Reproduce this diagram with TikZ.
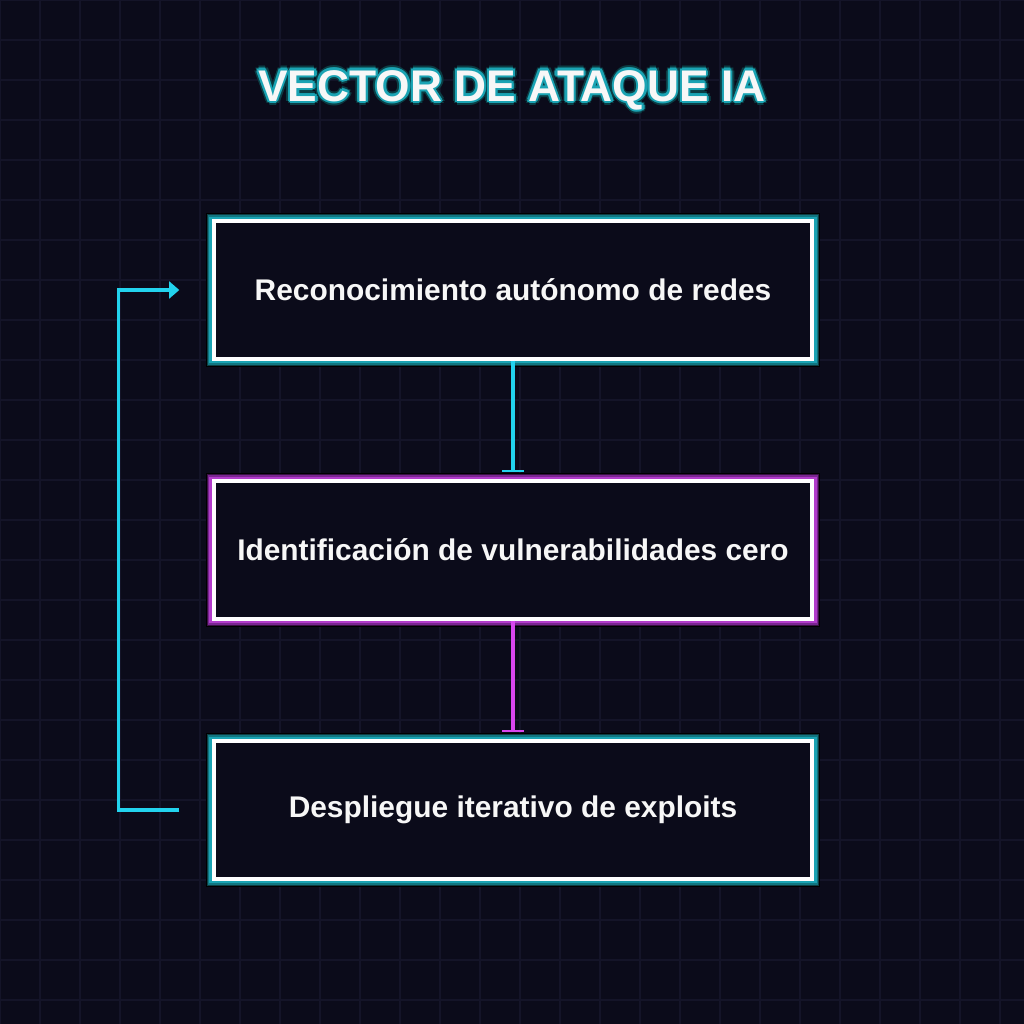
\documentclass[tikz,border=0pt]{standalone}
\usepackage{fontspec}
\setmainfont{Liberation Sans}
\usetikzlibrary{arrows.meta}

\definecolor{bgdark}{HTML}{0B0B1A}
\definecolor{gridline}{HTML}{141428}
\definecolor{cyanline}{HTML}{22D3EE}
\definecolor{pinkline}{HTML}{D946EF}
\definecolor{tealA}{HTML}{0C3D44}
\definecolor{tealB}{HTML}{117680}
\definecolor{tealC}{HTML}{1AA3B3}
\definecolor{pinkA}{HTML}{3A1045}
\definecolor{pinkB}{HTML}{7A2690}
\definecolor{pinkC}{HTML}{B23CCB}
\definecolor{textwhite}{HTML}{F7F7F7}

\tikzset{
  glowbox/.style={fill=bgdark, draw=white, line width=1.14pt,
    minimum width=5.97cm, minimum height=1.37cm,
    text=textwhite, font=\fontsize{8.5}{10}\selectfont\bfseries},
  cyanglow/.style={glowbox,
    preaction={draw=black, line width=4.6pt},
    preaction={draw=tealA, line width=4pt},
    preaction={draw=tealB, line width=3.4pt},
    preaction={draw=tealC, line width=2.8pt}},
  pinkglow/.style={glowbox,
    preaction={draw=black, line width=4.6pt},
    preaction={draw=pinkA, line width=4pt},
    preaction={draw=pinkB, line width=3.4pt},
    preaction={draw=pinkC, line width=2.8pt}},
  titletext/.style={font=\fontsize{12.6}{14}\selectfont\bfseries, anchor=base},
  flowline/.style={line width=1.14pt, -{Bar[width=6pt, line width=0.6pt]}, shorten >=2.2pt},
}

\begin{document}
\begin{tikzpicture}[x=0.01cm, y=-0.01cm]
    % background and grid
    \fill[bgdark] (0,0) rectangle (1024,1024);
    \useasboundingbox (0,0) rectangle (1024,1024);
    \foreach \k in {0,40,...,1000} {
        \draw[gridline, line width=0.3pt] (\k,0) -- (\k,1024);
        \draw[gridline, line width=0.3pt] (0,\k) -- (1024,\k);
    }

    % title with glow
    \foreach \a in {0,45,...,315}
        \node[titletext, text=tealA] at ([shift={(\a:4)}]512,101) {VECTOR DE ATAQUE IA};
    \foreach \a in {0,45,...,315}
        \node[titletext, text=tealC] at ([shift={(\a:2.2)}]512,101) {VECTOR DE ATAQUE IA};
    \node[titletext, text=textwhite] (title) at (512,101) {VECTOR DE ATAQUE IA};

    % steps
    \node[cyanglow] (recon) at (513,290) {Reconocimiento autónomo de redes};
    \node[pinkglow] (ident) at (513,550) {Identificación de vulnerabilidades cero};
    \node[cyanglow] (deploy) at (513,810) {Despliegue iterativo de exploits};

    % connectors
    \draw[flowline, cyanline] (recon.south) -- (ident.north);
    \draw[flowline, pinkline] (ident.south) -- (deploy.north);

    % feedback loop
    \coordinate (fbstart) at ([xshift=-0.33cm]deploy.west);
    \coordinate (fbend) at ([xshift=-0.33cm]recon.west);
    \draw[cyanline, line width=1pt, -{Triangle[length=2.9pt, width=4.8pt]}]
        (fbstart) -- ++(-61,0) |- (fbend);
\end{tikzpicture}
\end{document}
